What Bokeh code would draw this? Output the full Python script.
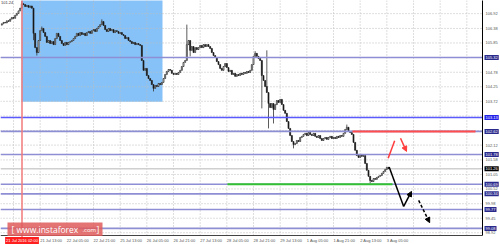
from bokeh.plotting import figure
from bokeh.models import Range1d, Span, Label, Arrow, NormalHead, ColumnDataSource
from bokeh.core.properties import value
from bokeh.embed import file_html
from bokeh.resources import INLINE

# ---------------- data (H1 bars, index = bar number) ----------------
first_open = 106.50
closes = [
    106.55, 106.60, 106.58, 106.66, 106.64, 106.72, 106.78, 106.75, 106.86, 106.93,
    107.02, 107.12, 107.28, 107.25, 107.18, 107.22, 107.15, 107.20, 107.12, 106.20,
    105.68, 105.50, 105.94, 106.30, 106.38, 106.23, 106.09, 105.87, 105.94, 105.83,
    105.90, 105.79, 106.01, 106.20, 106.09, 105.94, 105.83, 105.76, 105.87, 105.79,
    105.87, 105.90, 105.94, 106.01, 106.09, 106.20, 106.12, 106.23, 106.16, 106.20,
    106.12, 106.23, 106.27, 106.20, 106.30, 106.34, 106.27, 106.38, 106.45, 106.52,
    106.63, 106.49, 106.34, 106.27, 106.38, 106.30, 106.34, 106.23, 106.30, 106.27,
    106.20, 106.23, 106.16, 106.12, 106.01, 106.05, 105.94, 105.90, 105.83, 105.87,
    105.79, 105.83, 105.79, 105.76, 105.21, 104.85, 104.92, 104.66, 104.55, 104.48,
    104.33, 104.19, 104.30, 104.26, 104.37, 104.33, 104.41, 104.55, 104.70, 104.81,
    104.88, 104.85, 104.74, 104.70, 104.74, 104.70, 104.77, 104.85, 104.99, 105.14,
    105.21, 105.79, 105.94, 105.58, 105.72, 105.50, 105.68, 105.61, 105.68, 105.76,
    105.68, 105.79, 105.72, 105.79, 105.72, 105.65, 105.50, 105.39, 105.32, 105.17,
    105.06, 104.92, 104.85, 104.99, 105.10, 104.95, 104.81, 104.85, 104.70, 104.74,
    104.63, 104.70, 104.66, 104.74, 104.70, 104.77, 104.74, 104.81, 104.77, 104.85,
    105.06, 105.36, 105.47, 105.36, 105.28, 105.21, 104.66, 104.48, 104.26, 104.04,
    103.64, 103.49, 103.64, 103.42, 103.60, 103.75, 103.68, 103.79, 103.60, 103.39,
    103.28, 102.98, 102.73, 102.47, 102.25, 102.14, 102.18, 102.29, 102.25, 102.40,
    102.44, 102.51, 102.55, 102.47, 102.58, 102.51, 102.47, 102.55, 102.44, 102.40,
    102.47, 102.36, 102.29, 102.36, 102.40, 102.33, 102.40, 102.44, 102.36, 102.40,
    102.36, 102.44, 102.40, 102.47, 102.44, 102.55, 102.69, 102.77, 102.62, 102.58,
    102.51, 102.22, 101.93, 101.74, 101.67, 101.78, 101.71, 101.74, 101.45, 101.20,
    100.98, 100.83, 100.79, 100.90, 100.87, 100.94, 100.98, 101.01, 101.09, 101.16,
    101.23, 101.31, 101.26,
]
wick_high = {12: 107.38, 24: 106.45, 60: 106.71, 111: 106.52, 152: 105.55,
             159: 105.58, 207: 102.87}
wick_low = {19: 105.95, 21: 105.39, 91: 104.08, 113: 105.36, 156: 103.46,
            160: 102.73, 163: 102.91, 175: 102.00, 221: 100.72}

time_ticks = [7, 23, 39, 55, 71, 87, 103, 119, 135, 151, 167, 183, 199, 215, 231]
time_labels = ["20 Jul 21:00", "21 Jul 13:00", "22 Jul 05:00", "22 Jul 21:00",
               "25 Jul 13:00", "26 Jul 05:00", "26 Jul 21:00", "27 Jul 13:00",
               "28 Jul 05:00", "28 Jul 21:00", "29 Jul 13:00", "1 Aug 05:00",
               "1 Aug 21:00", "2 Aug 13:00", "3 Aug 05:00"]
future_grid = [247, 263, 279]

price_grid = [106.92, 106.38, 105.85, 105.32, 104.78, 104.25, 103.72, 103.18,
              102.65, 102.12, 101.58, 101.05, 100.52, 99.98, 99.45, 98.92]
level_prices = [105.32, 103.13, 102.62, 101.78, 100.69, 100.34, 99.77, 99.08]
level_labels = ["105.32", "103.13", "102.62", "101.78", "100.69", "100.34", "99.77", "99.08"]
bid_price = 101.26
title_text = "101.24"

# analyst drawings (bar index, price)
zone_bars = [11.8, 96.4]
zone_prices = [103.70, 107.60]
marker_bar = 12.1
marker_label = "21 Jul 2016 02:00"
resist_bars = [210.4, 284.2]
resist_price = 102.62
support_bars = [135.4, 234.4]
support_price = 100.69
red_up_bars = [231.8, 235.7]
red_up_prices = [101.64, 102.28]
red_down_bars = [239.2, 242.8]
red_down_prices = [102.37, 101.89]
black_bars = [232.4, 241.1, 245.8]
black_prices = [101.32, 99.88, 100.43]
dash_bars = [250.1, 256.7]
dash_prices = [100.10, 99.29]

# ---------------- layout: the chart area is 482 x 235 px, price scale and
# time scale are drawn in the remaining strip of the 500 x 244 canvas ----------
W, H = 500, 244
CHART_W, CHART_H = 482, 235
X_MIN, X_MAX = -0.8, 288.4          # bar index at left / right edge of chart area
Y_MAX, Y_MIN = 107.40, 98.82        # price at top / bottom edge of chart area
BPP = (X_MAX - X_MIN) / CHART_W     # bars per pixel
PPP = (Y_MAX - Y_MIN) / CHART_H     # price per pixel


def bx(px):
    return X_MIN + px * BPP


def py(pix):
    return Y_MAX - pix * PPP


FONT = "Liberation Sans"

p = figure(width=W, height=H, x_range=Range1d(X_MIN, bx(W)),
           y_range=Range1d(py(H), Y_MAX), x_axis_location=None, y_axis_location=None,
           output_backend="svg", toolbar_location=None,
           min_border_left=0, min_border_top=0, min_border_right=0, min_border_bottom=0)
p.outline_line_color = None
p.xgrid.visible = False
p.ygrid.visible = False
p.background_fill_color = "white"
p.border_fill_color = "white"

# blue zone
p.quad(left=[zone_bars[0]], right=[zone_bars[1]], bottom=[zone_prices[0]],
       top=[zone_prices[1]], fill_color="#86c2f8", line_color=None)

# dotted grid (drawn over the zone)
vgrid = time_ticks + future_grid
p.segment(x0=vgrid, y0=[Y_MIN] * len(vgrid), x1=vgrid, y1=[Y_MAX] * len(vgrid),
          line_color="#bdbdbd", line_dash="1 2", line_width=1)
p.segment(x0=[X_MIN] * len(price_grid), y0=price_grid, x1=[X_MAX] * len(price_grid),
          y1=price_grid, line_color="#bdbdbd", line_dash="1 2", line_width=1)

# bid line
p.segment(x0=[X_MIN], y0=[bid_price], x1=[X_MAX], y1=[bid_price],
          line_color="#cfcfcf", line_width=1.5)

# candles
n = len(closes)
idx = list(range(n))
opens = [first_open] + closes[:-1]
highs = [wick_high.get(i, max(o, c)) for i, (o, c) in enumerate(zip(opens, closes))]
lows = [wick_low.get(i, min(o, c)) for i, (o, c) in enumerate(zip(opens, closes))]
tops = [max(o, c) for o, c in zip(opens, closes)]
bots = [min(o, c) for o, c in zip(opens, closes)]
fills = ["white" if c >= o else "black" for o, c in zip(opens, closes)]
src = ColumnDataSource(dict(x=idx, high=highs, low=lows, top=tops, bottom=bots, fill=fills))
p.segment(x0="x", y0="high", x1="x", y1="low", source=src, line_color="#333333", line_width=0.8)
p.vbar(x="x", width=0.6, top="top", bottom="bottom", source=src,
       fill_color="fill", line_color="#2a2a2a", line_width=0.7)

# horizontal levels
level_colors = ["#8e8ed4", "#5a5aff", "#8e8ed4", "#8e8ed4", "#8e8ed4", "#8e8ed4", "#8e8ed4", "#8e8ed4"]
p.segment(x0=[X_MIN] * len(level_prices), y0=level_prices, x1=[X_MAX] * len(level_prices),
          y1=level_prices, line_color=level_colors, line_width=1.6)

# red resistance and green support
p.segment(x0=[resist_bars[0]], y0=[resist_price], x1=[resist_bars[1]], y1=[resist_price],
          line_color="#ff4d4d", line_width=2)
p.segment(x0=[support_bars[0]], y0=[support_price], x1=[support_bars[1]], y1=[support_price],
          line_color="#33c033", line_width=2)

# red vertical marker
p.segment(x0=[marker_bar], y0=[py(237)], x1=[marker_bar], y1=[Y_MAX + 1],
          line_color="#f27a7a", line_width=1.5)

# arrows
p.line(red_up_bars, red_up_prices, line_color="#ff3b3b", line_width=1.5)
p.add_layout(Arrow(x_start=red_down_bars[0], y_start=red_down_prices[0],
                   x_end=red_down_bars[1], y_end=red_down_prices[1],
                   line_color="#ff3b3b", line_width=1.5,
                   end=NormalHead(size=5, fill_color="#ff3b3b", line_color="#ff3b3b")))
p.line(black_bars[:2], black_prices[:2], line_color="black", line_width=1.5)
p.add_layout(Arrow(x_start=black_bars[1], y_start=black_prices[1],
                   x_end=black_bars[2], y_end=black_prices[2],
                   line_color="black", line_width=1.5,
                   end=NormalHead(size=5, fill_color="black", line_color="black")))
p.add_layout(Arrow(x_start=dash_bars[0], y_start=dash_prices[0],
                   x_end=dash_bars[1], y_end=dash_prices[1],
                   line_color="black", line_width=1.5, line_dash="3 2",
                   end=NormalHead(size=5, fill_color="black", line_color="black")))

# ---------------- price scale (right) and time scale (bottom) ----------------
p.segment(x0=[X_MAX], y0=[Y_MAX + 1], x1=[X_MAX], y1=[Y_MIN], line_color="black", line_width=1)
p.segment(x0=[X_MIN], y0=[Y_MIN], x1=[X_MAX], y1=[Y_MIN], line_color="#444444", line_width=1)
p.text(x=[bx(485)] * len(price_grid), y=price_grid, text=[f"{v:.2f}" for v in price_grid],
       text_align="left", text_baseline="middle", text_font=value(FONT),
       text_font_size="4px", text_color="#555555")
p.text(x=time_ticks, y=[py(239.5)] * len(time_ticks), text=time_labels,
       text_align="left", text_baseline="middle", text_font=value(FONT),
       text_font_size="4px", text_color="#555555")

# highlighted level labels
level_bg = ["#2a2a8c", "#2020e8", "#2a2a8c", "#2a2a8c", "#2a2a8c", "#2a2a8c", "#2a2a8c", "#2a2a8c"]
for v, s, bg in zip(level_prices, level_labels, level_bg):
    p.add_layout(Label(x=bx(484), y=v, text=s, text_align="left",
                       text_baseline="middle", text_font=FONT, text_font_size="4px",
                       text_color="white", background_fill_color=bg, padding=1))
p.add_layout(Label(x=bx(484), y=bid_price, text=f"{bid_price:.2f}",
                   text_align="left", text_baseline="middle", text_font=FONT,
                   text_font_size="4px", text_color="white",
                   background_fill_color="black", padding=1))

# marker date label under the chart
p.add_layout(Label(x=marker_bar, y=py(240), text=marker_label, text_align="center",
                   text_baseline="middle", text_font=FONT, text_font_size="4px",
                   text_color="white", background_fill_color="#ff1f1f", padding=1))

# title fragment
p.add_layout(Label(x=bx(0.5), y=py(2), text=title_text, text_align="left",
                   text_baseline="middle", text_font=FONT, text_font_size="4px",
                   text_color="#333333"))

# watermark
p.quad(left=[bx(7)], right=[bx(102)], top=[py(222)], bottom=[py(235.5)],
       fill_color="#df5a5a", fill_alpha=0.85, line_color=None)
p.add_layout(Label(x=bx(11), y=py(228.5), text="[ www.instaforex", text_align="left",
                   text_baseline="middle", text_font="Open Sans", text_font_size="8.5px",
                   text_color="white"))
p.add_layout(Label(x=bx(82), y=py(229.5), text=".com", text_align="left",
                   text_baseline="middle", text_font="Open Sans", text_font_size="6px",
                   text_color="white"))
p.add_layout(Label(x=bx(96), y=py(228.5), text="]", text_align="left",
                   text_baseline="middle", text_font="Open Sans", text_font_size="8.5px",
                   text_color="white"))

open("out.html", "w").write(file_html(p, INLINE))
